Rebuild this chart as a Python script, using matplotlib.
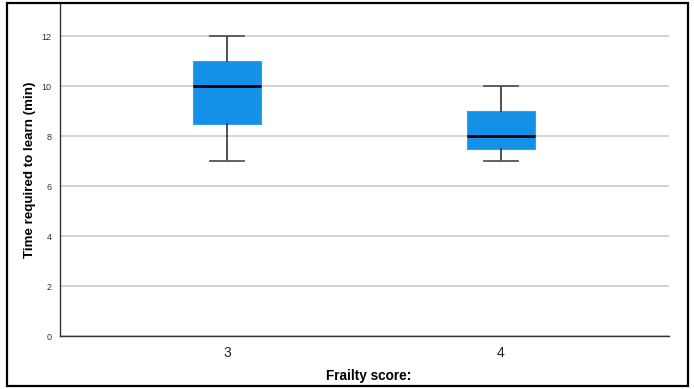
import matplotlib.pyplot as plt
import matplotlib.patches as patches

plt.rcParams['font.family'] = ['Liberation Sans', 'DejaVu Sans']

# Frailty score groups and their box summaries (minutes)
groups = ['3', '4']
q1 = [8.5, 7.5]
medians = [10, 8]
q3 = [11, 9]
whisker_low = [7, 7]
whisker_high = [12, 10]

W, H = 694, 389
fig = plt.figure(figsize=(W / 100, H / 100), dpi=100)

# axes placed in pixel terms
left, right, bottom, top = 60, 669, 336, 3
ax = fig.add_axes([left / W, 1 - bottom / H, (right - left) / W, (bottom - top) / H])

stats = []
for i, g in enumerate(groups):
    stats.append(dict(label=g, med=medians[i], q1=q1[i], q3=q3[i],
                      whislo=whisker_low[i], whishi=whisker_high[i], fliers=[]))

ax.bxp(stats, positions=[0, 1], widths=0.25, showfliers=False, patch_artist=True,
       boxprops=dict(facecolor='#1490e8', edgecolor='#3a9cec', linewidth=0.8),
       medianprops=dict(color='black', linewidth=2),
       whiskerprops=dict(color='#222222', linewidth=1.1),
       capprops=dict(color='#555555', linewidth=1.3),
       capwidths=0.125, zorder=3)

ax.set_xlim(-0.609, 1.613)
ax.set_ylim(0, 13.32)
ax.set_yticks(range(0, 13, 2))
ax.yaxis.grid(True, color='#c8c8c8', linewidth=1.1, zorder=0)
ax.set_axisbelow(True)

for s in ['top', 'right']:
    ax.spines[s].set_visible(False)
for s in ['left', 'bottom']:
    ax.spines[s].set_color('#333333')
    ax.spines[s].set_linewidth(1.0)

ax.tick_params(axis='y', length=0, labelsize=6.5, labelcolor='#333333', pad=6)
ax.tick_params(axis='x', length=0, labelsize=10, labelcolor='#222222', pad=7)

ax.set_ylabel('Time required to learn (min)', fontsize=9.6, fontweight='bold')
ax.yaxis.set_label_coords(-0.049, 0.5)
ax.set_xlabel('Frailty score:', fontsize=9.8, fontweight='bold')
ax.xaxis.set_label_coords(0.507, -0.12)
ax.xaxis.label.set_va('center')
ax.yaxis.label.set_va('center')

# outer frame around the figure
fig.patches.append(patches.Rectangle((7 / W, 3 / H), (688 - 7) / W, (386 - 3) / H,
                                     transform=fig.transFigure, fill=False,
                                     edgecolor='black', linewidth=1.6))

fig.savefig('out.png', dpi=100)
